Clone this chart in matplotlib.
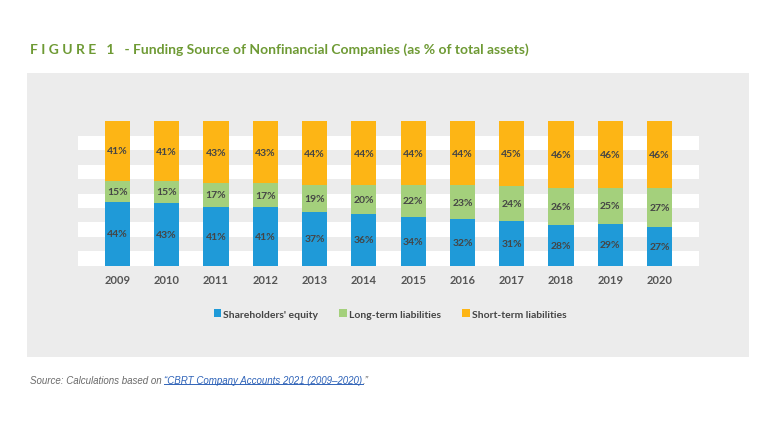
import matplotlib
matplotlib.use("Agg")
import numpy as np
import matplotlib.pyplot as plt
from matplotlib.patches import Rectangle
from matplotlib.lines import Line2D

years = ['2009', '2010', '2011', '2012', '2013', '2014', '2015', '2016', '2017', '2018', '2019', '2020']
# shares (labels show them rounded)
equity = [44, 43.4, 40.8, 40.6, 37, 36, 34, 32.4, 31, 28, 29, 27]
long_term = [15, 15.4, 16.6, 16.6, 19, 20, 22, 23.2, 24, 26, 25, 27]
short_term = [41, 41.2, 42.6, 42.8, 44, 44, 44, 44.4, 45, 46, 46, 46]
series_names = ["Shareholders' equity", "Long-term liabilities", "Short-term liabilities"]

colors = ['#1F9AD8', '#A4D07C', '#FDB515']
panel_gray = '#ECECEC'
text_col = '#454545'
font = 'Lato'

fig = plt.figure(figsize=(7.8, 4.39), dpi=100)
fig.patch.set_facecolor('white')

# grey panel behind the chart
fig.patches.append(Rectangle((27 / 780, 1 - 358 / 439), (749 - 27) / 780, (358 - 74) / 439,
                             transform=fig.transFigure, facecolor=panel_gray,
                             edgecolor='none', zorder=-5))

ax = fig.add_axes([78 / 780, 1 - 266.7 / 439, (699 - 78) / 780, (266.7 - 122.3) / 439])
ax.set_facecolor(panel_gray)
ax.set_zorder(1)

# white horizontal stripes
for lo in range(0, 90, 20):
    ax.axhspan(lo, lo + 10, color='white', zorder=0, lw=0)

x = np.arange(len(years))
w = 0.51
bottoms = np.zeros(len(years))
for vals, c in zip([equity, long_term, short_term], colors):
    ax.bar(x, vals, w, bottom=bottoms, color=c, zorder=2, linewidth=0)
    for xi, b, v in zip(x, bottoms, vals):
        ax.text(xi, b + v / 2, f'{v:.0f}%', ha='center', va='center', fontsize=7.5,
                color=text_col, family=font, fontweight='bold', zorder=3)
    bottoms += np.array(vals)

ax.set_xlim(-0.8, 11.8)
ax.set_ylim(0, 100)
ax.set_yticks([])
ax.set_xticks(x)
ax.set_xticklabels(years, fontsize=8, color='#555555', family=font, fontweight='bold')
ax.tick_params(axis='x', length=0, pad=6)
for s in ax.spines.values():
    s.set_visible(False)

# legend
handles = [Rectangle((0, 0), 1, 1, facecolor=c, edgecolor='none') for c in colors]
leg = fig.legend(handles, series_names, loc='center', bbox_to_anchor=(390 / 780, 1 - 315 / 439),
                 ncol=3, frameon=False, handlelength=0.75, handleheight=0.75,
                 handletextpad=0.2, columnspacing=2.0,
                 prop={'family': font, 'size': 7.5, 'weight': 'bold'})
for t in leg.get_texts():
    t.set_color(text_col)

# title
fig.text(30 / 780, 1 - 50 / 439,
         'F I G U R E   1   - Funding Source of Nonfinancial Companies (as % of total assets)',
         fontsize=10, fontweight='bold', color='#6E9A34', family=font, va='center')

# source line
src = fig.text(30 / 780, 1 - 381 / 439, 'Source: Calculations based on ',
               fontsize=7, style='italic', color='#6A6A6A', family='Liberation Sans', va='center')
link = fig.text(0, 0, '\u201cCBRT Company Accounts 2021 (2009\u20132020)',
                fontsize=7, style='italic', color='#2F63B8', family='Liberation Sans', va='center')
tail = fig.text(0, 0, '.\u201d', fontsize=7, style='italic', color='#6A6A6A',
                family='Liberation Sans', va='center')

fig.canvas.draw()
r = fig.canvas.get_renderer()
bb = src.get_window_extent(r)
link.set_position((bb.x1 / 780, 1 - 381 / 439))
fig.canvas.draw()
lb = link.get_window_extent(r)
tail.set_position((lb.x1 / 780, 1 - 381 / 439))
fig.lines.append(Line2D([lb.x0 / 780, lb.x1 / 780], [(lb.y0 + 1) / 439, (lb.y0 + 1) / 439],
                        transform=fig.transFigure, color='#2F63B8', lw=0.7))

fig.savefig('out.png', dpi=100)
